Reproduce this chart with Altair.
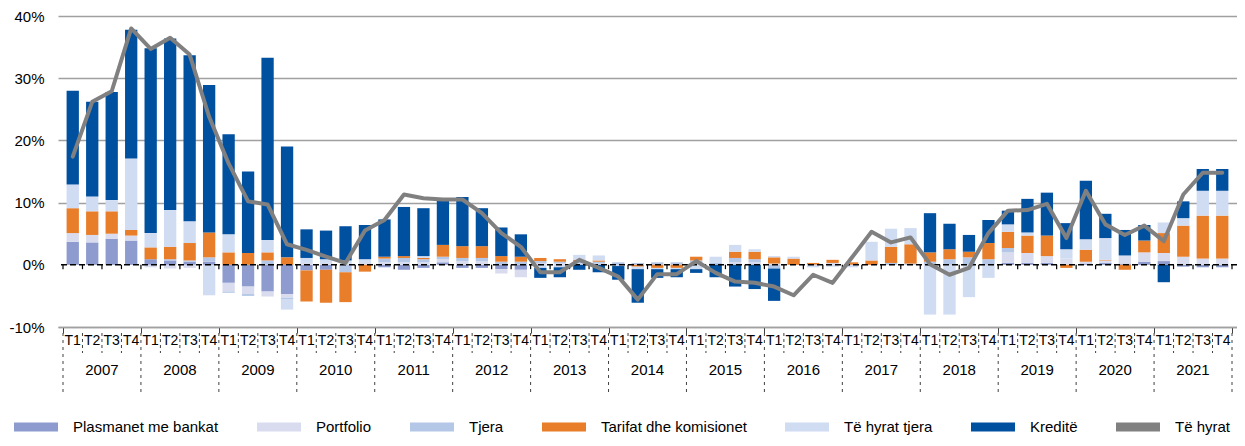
import altair as alt
import pandas as pd

years = [str(y) for y in range(2007, 2022)]
quarters = ["T1", "T2", "T3", "T4"]

series_names = ["Plasmanet me bankat", "Portfolio", "Tjera",
                "Tarifat dhe komisionet", "Të hyrat tjera", "Kreditë"]
line_name = "Të hyrat"
colors = ["#8E9BCF", "#D9DCEE", "#B4C7E7", "#E87D2A", "#CFDCF2", "#0050A0"]
line_color = "#808080"

plasmanet = [3.7, 3.6, 4.2, 3.9, 0.9, 0.7, 0.5, 0.5, -2.9, -3.5, -4.3, -4.7,
             -0.9, -0.8, 0, 0, -0.4, -0.8, -0.5, 0.4, -0.5, -0.5, -0.7, -0.8,
             0, 0, 0, 0, 0, 0, 0, 0, 0, 0, 0, 0,
             0, 0, 0, 0, 0, 0, 0, 0, 0, 0, 0, 0,
             0.3, 0.3, 0.3, 0, 0.2, 0.3, 0.2, 0.5, 0.6, -0.3, -0.4, -0.4]
portfolio = [1.4, 1.2, 0.8, 0.8, -0.4, -0.6, -0.5, 0, -1.4, -1.2, -0.8, -0.6,
             0.3, 0.3, 0.2, 0.3, 0.4, 0.4, 0.4, 0.5, 0.6, 0.6, -0.7, -1.2,
             0.3, 0.3, 0.2, 0.2, 0, 0, 0, 0, 0.3, 0, 0.4, 0.4,
             0.2, 0, 0, 0.3, 0, 0, 0, 0, 0, 0, 0, 0,
             1.7, 1.6, 1.1, 1.0, 0.3, 0.4, 1.3, 1.5, 1.3, 1.3, 1.0, 1.0]
tjera = [0, 0, 0, 0, 0, 0.2, 0.2, 0.7, -0.2, -0.3, 0.7, -0.2,
         0, 0, -1.2, 0, 0.6, 0.7, 0.5, 0.4, 0.5, 0.5, 0.5, 0.5,
         0.3, 0.2, 0.3, 0.3, 0.4, 0.3, 0.4, 0.4, 0.4, 0.3, 0.7, 0.5,
         -0.6, 0, 0, 0, 0, 0, 0.3, 0.2, 0.5, 0.9, 1.2, 0.9,
         0.7, 0, 0, 0, 0, 0, 0, 0, 0, 0, 0, 0]
tarifat = [4.0, 3.8, 3.6, 0.9, 1.9, 2.0, 2.8, 4.0, 2.0, 1.9, 1.3, 1.2,
           -5.0, -5.3, -4.8, -1.1, 0.3, 0.3, 0.2, 1.9, 1.9, 1.9, 0.9, 0.8,
           0.5, 0.4, 0.3, 0.2, 0, -0.3, -0.5, -0.5, 0.6, 0, 1.0, 1.2,
           1.0, 1.0, 0.3, 0.5, 0.4, 0.7, 2.6, 3.1, 1.5, 1.6, 0.9, 2.6,
           2.6, 2.8, 3.3, -0.5, 1.9, 0.1, -0.8, 1.9, 3.2, 5.0, 6.9, 6.9]
hyrat_tjera = [3.8, 2.4, 1.8, 11.5, 2.3, 5.9, 3.5, -4.9, 2.9, 0, 2.0, -1.7,
               0.8, 0.6, 0.5, 0.6, 0, 0, 0.3, 0, 0, 0, 0, 0,
               -0.5, -0.4, 0.8, 0.8, -0.2, -0.4, -0.2, -0.2, -0.7, 1.0, 1.1, 0.4,
               0.2, 0.3, -0.4, -0.3, -0.4, 3.0, 2.9, 2.6, -8.0, -8.0, -5.2, -2.1,
               1.2, 0.5, 0, 1.5, 1.7, 3.5, 0, 0, 1.7, 1.2, 4.0, 4.0]
kredite = [15.1, 15.2, 17.4, 20.7, 29.7, 27.6, 26.7, 23.7, 16.1, 13.1, 29.3, 17.8,
           4.6, 4.6, 5.5, 5.5, 6.0, 7.9, 7.7, 7.2, 7.9, 6.1, 4.6, 3.6,
           -1.6, -1.6, -0.8, -1.2, -2.2, -5.4, -1.4, -1.3, -0.6, -2.0, -3.5, -3.9,
           -5.2, 0, 0, 0, 0, 0, 0, 0, 6.3, 4.1, 2.7, 3.7,
           2.2, 5.4, 6.9, 4.2, 9.4, 3.9, 4.1, 2.5, -2.8, 2.7, 3.5, 3.5]
te_hyrat = [17.4, 26.2, 27.9, 38.0, 34.7, 36.5, 33.8, 23.8, 16.3, 10.2, 9.7, 3.3,
            2.4, 1.3, 0.3, 5.5, 7.2, 11.3, 10.7, 10.5, 10.5, 8.3, 5.1, 2.9,
            -1.2, -1.2, 0.8, -0.5, -1.9, -5.6, -1.5, -1.5, 0.6, -1.3, -2.7, -2.9,
            -3.5, -4.9, -1.6, -2.9, 1.2, 5.3, 3.6, 4.4, 0.1, -1.6, -0.5, 5.1,
            8.7, 8.8, 9.8, 4.3, 11.9, 6.5, 4.8, 6.3, 3.8, 11.3, 14.8, 14.8]

series_values = [plasmanet, portfolio, tjera, tarifat, hyrat_tjera, kredite]
n = len(years) * len(quarters)

W, H = 1179, 311

rows = []
for k, (name, vals) in enumerate(zip(series_names, series_values)):
    for i, v in enumerate(vals):
        rows.append({"xc": i + 0.5, "series": name, "ord": k, "value": v})
bars_df = pd.DataFrame(rows)

line_df = pd.DataFrame({"xc": [i + 0.5 for i in range(n)], "value": te_hyrat})
qlab_df = pd.DataFrame({"xc": [i + 0.5 for i in range(n)],
                        "lab": [quarters[i % 4] for i in range(n)]})
ylab_df = pd.DataFrame({"xc": [4 * j + 2 for j in range(len(years))], "lab": years})
qsep_df = pd.DataFrame({"b": [i for i in range(n + 1) if i % 4 != 0]})
ysep_df = pd.DataFrame({"b": [i for i in range(0, n + 1, 4)]})
ztick_df = pd.DataFrame({"b": list(range(n + 1)), "y0": 0.0, "y1": -0.7})
zero_df = pd.DataFrame({"y": [0]})

xscale = alt.Scale(domain=[0, n], nice=False, zero=False)
yscale = alt.Scale(domain=[-10, 40], nice=False)

bars = alt.Chart(bars_df).mark_bar(size=12.3).encode(
    x=alt.X("xc:Q", scale=xscale,
            axis=alt.Axis(values=list(range(n + 1)), labels=False, title=None,
                          grid=False, tickSize=6, tickColor="#404040",
                          tickWidth=1, domainColor="#A0A0A0", domainWidth=1.5)),
    y=alt.Y("value:Q", scale=yscale, stack="zero",
            axis=alt.Axis(values=[-10, 0, 10, 20, 30, 40], title=None,
                          labelExpr="datum.value + '%'", domain=False,
                          ticks=False, tickSize=0, labelPadding=14,
                          labelFontSize=15, labelColor="#000000",
                          grid=True, gridWidth=1.5,
                          gridColor={"condition": {"test": "datum.value === 0",
                                                   "value": "transparent"},
                                     "value": "#A0A0A0"})),
    color=alt.Color("series:N",
                    scale=alt.Scale(domain=series_names + [line_name],
                                    range=colors + [line_color]),
                    legend=alt.Legend(orient="none", legendX=-44, legendY=389,
                                      direction="horizontal", columns=7,
                                      title=None,
                                      symbolType="M-1,-0.2H1V0.2H-1Z",
                                      symbolSize=1936, symbolStrokeWidth=0,
                                      labelFontSize=15, labelColor="#000000",
                                      labelOffset=15, columnPadding=38,
                                      labelLimit=400)),
    order=alt.Order("ord:Q", sort="ascending"),
)

zero_line = alt.Chart(zero_df).mark_rule(color="#000000", strokeWidth=1.5,
                                         strokeDash=[6, 3]).encode(
    y=alt.Y("y:Q", scale=yscale))

zero_ticks = alt.Chart(ztick_df).mark_rule(color="#000000", strokeWidth=1.2).encode(
    x=alt.X("b:Q", scale=xscale), y=alt.Y("y0:Q", scale=yscale), y2="y1:Q")

line = alt.Chart(line_df).mark_line(color=line_color, strokeWidth=4,
                                    strokeJoin="round", strokeCap="round").encode(
    x=alt.X("xc:Q", scale=xscale), y=alt.Y("value:Q", scale=yscale))

qlabels = alt.Chart(qlab_df).mark_text(fontSize=14, baseline="middle",
                                       align="center", color="#000000").encode(
    x=alt.X("xc:Q", scale=xscale), y=alt.value(H + 14), text="lab:N")

ylabels = alt.Chart(ylab_df).mark_text(fontSize=15, baseline="middle",
                                       align="center", color="#000000").encode(
    x=alt.X("xc:Q", scale=xscale), y=alt.value(H + 43), text="lab:N")

qsep = alt.Chart(qsep_df).mark_rule(color="#404040", strokeWidth=1,
                                    strokeDash=[3, 3]).encode(
    x=alt.X("b:Q", scale=xscale), y=alt.value(H + 6), y2=alt.value(H + 26))

ysep = alt.Chart(ysep_df).mark_rule(color="#404040", strokeWidth=1,
                                    strokeDash=[3, 4]).encode(
    x=alt.X("b:Q", scale=xscale), y=alt.value(H + 6), y2=alt.value(H + 66))

chart = alt.layer(bars, zero_line, zero_ticks, line, qlabels, ylabels, qsep, ysep).properties(
    width=W, height=H,
    autosize=alt.AutoSizeParams(type="none"),
    padding={"left": 50, "top": 8, "right": 0, "bottom": 111},
).configure(font="Liberation Sans").configure_view(stroke=None)

chart.save("out.html", embed_options={"renderer": "svg", "actions": False})
